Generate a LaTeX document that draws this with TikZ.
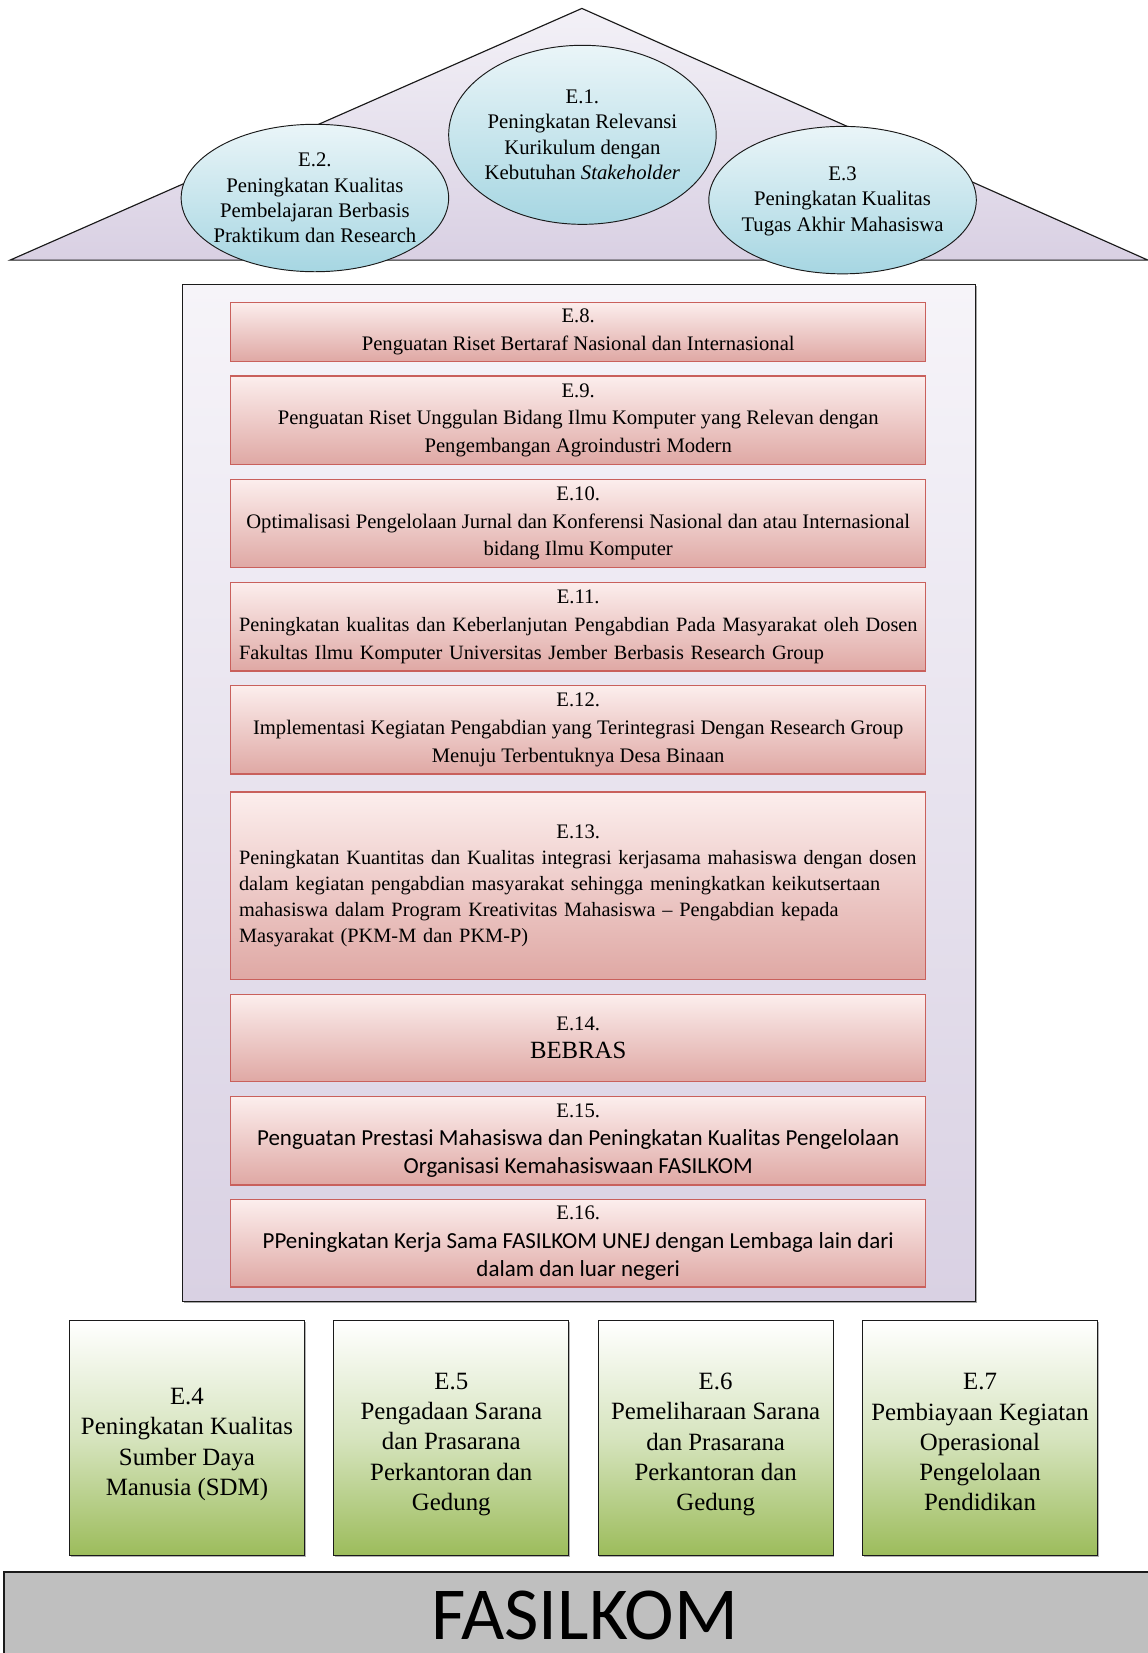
\documentclass[tikz,border=0pt]{standalone}
\usepackage{fontspec}
\setmainfont{Liberation Serif}
\newfontfamily\calibrifont{Carlito}
\usetikzlibrary{shapes.geometric,shadows}
\definecolor{roofTop}{HTML}{F3F1F7}
\definecolor{roofBot}{HTML}{D9D0E3}
\definecolor{ellTop}{HTML}{EAF5F8}
\definecolor{ellBot}{HTML}{A6D6E2}
\definecolor{redTop}{HTML}{FCEEED}
\definecolor{redBot}{HTML}{DFA8A4}
\definecolor{redLine}{HTML}{C9605C}
\definecolor{grnMid}{HTML}{D6E4BE}
\definecolor{grnBot}{HTML}{9CBC5B}
\definecolor{mainTop}{HTML}{F6F4F9}
\definecolor{mainBot}{HTML}{D9D1E3}
\definecolor{fasilGray}{HTML}{BFBFBF}
\definecolor{edge}{HTML}{1A1A1A}
\newcommand{\calline}[1]{{\calibrifont\fontsize{21.8}{27}\selectfont #1}}
\tikzset{
  roof/.style={draw=edge, line width=1.1pt, top color=roofTop, bottom color=roofBot},
  goal/.style={ellipse, draw=edge, line width=0.9pt, top color=ellTop, bottom color=ellBot,
    minimum width=254pt, inner sep=0pt},
  goaltext/.style={inner sep=0pt, align=center, font=\fontsize{19.7}{24}\selectfont},
  mainbox/.style={draw=edge, line width=1.1pt, top color=mainTop, bottom color=mainBot,
    minimum width=753pt, minimum height=966pt, inner sep=0pt,
    drop shadow={shadow xshift=1.5pt, shadow yshift=-1.5pt, opacity=0.7}},
  redbox/.style={draw=redLine, line width=1.3pt, top color=redTop, bottom color=redBot,
    minimum width=660pt, inner sep=0pt, align=center,
    font=\fontsize{19.6}{26.3}\selectfont},
  leftbox/.style={redbox, text width=644pt, align=left},
  greenbox/.style={draw=edge, line width=1.1pt, top color=white, bottom color=grnBot, middle color=grnMid,
    minimum width=223pt, minimum height=223pt, inner sep=0pt,
    drop shadow={shadow xshift=1.2pt, shadow yshift=-1.2pt, opacity=0.6}},
  greentext/.style={inner sep=0pt, align=center, font=\fontsize{23.6}{28.7}\selectfont},
  basebox/.style={draw=edge, line width=1.4pt, fill=fasilGray, inner sep=0pt,
    minimum width=1090pt, minimum height=110pt},
}
\begin{document}
\begin{tikzpicture}[x=1pt,y=-1pt]
\useasboundingbox (0,0) rectangle (1090,1569.5);
% roof
\path[roof] (9.5,247) -- (552.5,8) -- (1090,247) -- cycle;
\node[goal, minimum height=140pt] (e2) at (299,188) {};
\node[goal, minimum height=140pt] (e3) at (800,190) {};
\node[goal, minimum height=170pt] (e1) at (553,128) {};
\node[goaltext] (e2t) at (e2.center)
  {E.2.\\Peningkatan Kualitas\\Pembelajaran Berbasis\\Praktikum dan Research};
\node[goaltext] (e3t) at ([yshift=-1pt]e3.center)
  {E.3\\Peningkatan Kualitas\\Tugas Akhir Mahasiswa};
\node[goaltext] (e1t) at (e1.center)
  {E.1.\\Peningkatan Relevansi\\Kurikulum dengan\\Kebutuhan \textit{Stakeholder}};
% main body
\node[mainbox] (main) at (549.5,753) {};
\node[redbox, minimum height=56pt] (e8) at (549,315)
  {E.8.\\Penguatan Riset Bertaraf Nasional dan Internasional};
\node[redbox, minimum height=84pt] (e9) at (549,399)
  {E.9.\\Penguatan Riset Unggulan Bidang Ilmu Komputer yang Relevan dengan\\Pengembangan Agroindustri Modern};
\node[redbox, minimum height=84pt] (e10) at (549,497)
  {E.10.\\Optimalisasi Pengelolaan Jurnal dan Konferensi Nasional dan atau Internasional\\bidang Ilmu Komputer};
\node[leftbox, minimum height=84pt, font=\fontsize{19.3}{26.3}\selectfont] (e11) at (549,595)
  {\makebox[644pt][c]{\fontsize{19.6}{26.3}\selectfont E.11.}\\
   \mbox{Peningkatan kualitas dan Keberlanjutan Pengabdian Pada Masyarakat oleh Dosen}\\
   \mbox{Fakultas Ilmu Komputer Universitas Jember Berbasis Research Group}};
\node[redbox, minimum height=84pt] (e12) at (549,693)
  {E.12.\\Implementasi Kegiatan Pengabdian yang Terintegrasi Dengan Research Group\\Menuju Terbentuknya Desa Binaan};
\node[leftbox, minimum height=178pt, font=\fontsize{19.3}{24.5}\selectfont] (e13) at (549,841)
  {\makebox[644pt][c]{\fontsize{19.6}{24.5}\selectfont E.13.}\\
   \mbox{Peningkatan Kuantitas dan Kualitas integrasi kerjasama mahasiswa dengan dosen}\\
   \mbox{dalam kegiatan pengabdian masyarakat sehingga meningkatkan keikutsertaan}\\
   \mbox{mahasiswa dalam Program Kreativitas Mahasiswa -- Pengabdian kepada}\\
   \mbox{Masyarakat (PKM-M dan PKM-P)}};
\node[redbox, minimum height=83pt] (e14) at (549,985.5)
  {E.14.\\{\fontsize{23.5}{28}\selectfont BEBRAS}};
\node[redbox, minimum height=84pt, font=\fontsize{19.6}{27}\selectfont] (e15) at (549,1083)
  {E.15.\\\calline{Penguatan Prestasi Mahasiswa dan Peningkatan Kualitas Pengelolaan}\\\calline{Organisasi Kemahasiswaan FASILKOM}};
\node[redbox, minimum height=83pt, font=\fontsize{19.6}{27}\selectfont] (e16) at (549,1180.5)
  {E.16.\\\calline{PPeningkatan Kerja Sama FASILKOM UNEJ dengan Lembaga lain dari}\\\calline{dalam dan luar negeri}};
% pillars
\node[greenbox] (e4) at (177.5,1365.5) {};
\node[greenbox] (e5) at (428.5,1365.5) {};
\node[greenbox] (e6) at (679.5,1365.5) {};
\node[greenbox] (e7) at (930.5,1365.5) {};
\node[greentext] (e4t) at ([yshift=-6pt]e4.center) {E.4\\Peningkatan Kualitas\\Sumber Daya\\Manusia (SDM)};
\node[greentext] (e5t) at ([yshift=-6pt]e5.center) {E.5\\Pengadaan Sarana\\dan Prasarana\\Perkantoran dan\\Gedung};
\node[greentext] (e6t) at ([yshift=-6pt]e6.center) {E.6\\Pemeliharaan Sarana\\dan Prasarana\\Perkantoran dan\\Gedung};
\node[greentext] (e7t) at ([yshift=-4pt]e7.center) {E.7\\Pembiayaan Kegiatan\\Operasional\\Pengelolaan\\Pendidikan};
% base
\node[basebox, anchor=north west] (base) at (3,1492) {};
\node[anchor=base, inner sep=0pt, font=\calibrifont\fontsize{71}{80}\selectfont] (fasil) at (555,1557) {FASILKOM};
\end{tikzpicture}
\end{document}
